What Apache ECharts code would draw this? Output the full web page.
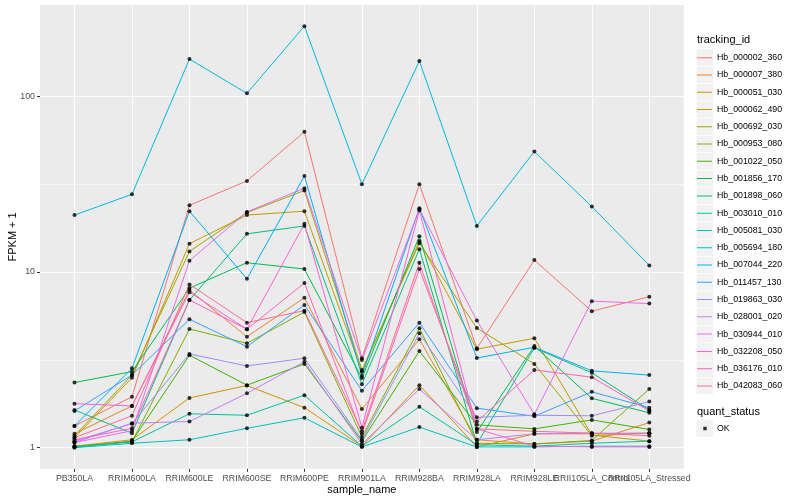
<!DOCTYPE html>
<html><head><meta charset="utf-8">
<script src="https://cdn.jsdelivr.net/npm/echarts@6/dist/echarts.min.js"></script>
<style>html,body{margin:0;padding:0;background:#fff}#c{width:800px;height:500px}</style>
</head><body><div id="c"></div>
<script>
const categories = ['PB350LA','RRIM600LA','RRIM600LE','RRIM600SE','RRIM600PE','RRIM901LA','RRIM928BA','RRIM928LA','RRIM928LE','RRII105LA_Control','RRII105LA_Stressed'];
const trackingIds = ['Hb_000002_360','Hb_000007_380','Hb_000051_030','Hb_000062_490','Hb_000692_030','Hb_000953_080','Hb_001022_050','Hb_001856_170','Hb_001898_060','Hb_003010_010','Hb_005081_030','Hb_005694_180','Hb_007044_220','Hb_011457_130','Hb_019863_030','Hb_028001_020','Hb_030944_010','Hb_032208_050','Hb_036176_010','Hb_042083_060'];
const quantStatus = ['OK'];
const yTicks = [1, 10, 100];
const yMinorTicks = [3.16228, 31.6228];

// FPKM + 1 per sample, in category order
const hb_000002_360 = [1.33, 1.95, 24.0, 33.0, 62.8, 3.23, 31.6, 3.68, 11.7, 5.98, 7.24];
const hb_000007_380 = [1.20, 1.73, 7.9, 4.28, 7.14, 1.66, 4.14, 1.11, 1.05, 1.09, 1.39];
const hb_000051_030 = [1.02, 1.11, 1.92, 2.26, 1.69, 1.02, 2.27, 1.01, 1.2, 1.2, 1.21];
const hb_000062_490 = [1.14, 2.5, 14.5, 21.1, 22.2, 2.71, 15.0, 3.64, 4.2, 1.18, 1.09];
const hb_000692_030 = [1.17, 2.59, 13.1, 21.8, 29.1, 2.77, 14.6, 4.8, 3.0, 1.17, 1.21];
const hb_000953_080 = [1.02, 1.08, 4.74, 3.93, 5.92, 1.15, 4.78, 1.06, 1.05, 1.1, 2.16];
const hb_001022_050 = [1.01, 1.09, 3.36, 2.27, 3.0, 1.09, 3.55, 1.35, 1.28, 1.44, 1.27];
const hb_001856_170 = [2.35, 2.71, 8.1, 11.3, 10.4, 2.49, 16.0, 1.23, 3.79, 1.91, 1.58];
const hb_001898_060 = [1.64, 1.21, 6.93, 16.5, 18.3, 2.30, 13.5, 1.05, 3.70, 2.67, 1.64];
const hb_003010_010 = [1.01, 1.08, 1.56, 1.53, 1.99, 1.02, 1.71, 1.04, 1.02, 1.06, 1.09];
const hb_005081_030 = [1.0, 1.06, 1.11, 1.29, 1.48, 1.01, 1.31, 1.01, 1.01, 1.02, 1.02];
const hb_005694_180 = [21.1, 27.7, 163, 104, 251, 31.6, 159, 18.3, 48.5, 23.6, 10.9];
const hb_007044_220 = [1.33, 2.83, 22.2, 9.15, 35.2, 2.56, 23.1, 3.24, 3.73, 2.74, 2.59];
const hb_011457_130 = [1.62, 2.59, 5.38, 3.76, 6.5, 2.11, 5.15, 1.68, 1.51, 2.08, 1.69];
const hb_019863_030 = [1.09, 1.37, 3.42, 2.92, 3.23, 1.11, 4.48, 1.49, 1.53, 1.52, 1.83];
const hb_028001_020 = [1.07, 1.38, 1.41, 2.04, 3.09, 1.05, 2.16, 1.11, 1.2, 1.21, 1.21];
const hb_030944_010 = [1.07, 1.25, 11.6, 22.0, 30.0, 3.16, 22.8, 5.29, 1.55, 6.83, 6.61];
const hb_032208_050 = [1.78, 1.73, 7.67, 4.73, 18.8, 1.3, 22.4, 1.28, 1.02, 1.01, 1.01];
const hb_036176_010 = [1.11, 1.29, 6.93, 4.73, 8.66, 1.2, 10.4, 1.41, 2.77, 2.52, 1.62];
const hb_042083_060 = [1.14, 1.52, 8.5, 5.15, 6.03, 1.24, 11.3, 1.28, 1.24, 1.21, 1.17];

const seriesValues = [hb_000002_360, hb_000007_380, hb_000051_030, hb_000062_490, hb_000692_030, hb_000953_080, hb_001022_050, hb_001856_170, hb_001898_060, hb_003010_010, hb_005081_030, hb_005694_180, hb_007044_220, hb_011457_130, hb_019863_030, hb_028001_020, hb_030944_010, hb_032208_050, hb_036176_010, hb_042083_060];
const colors = ['#F8766D','#EA8331','#D89000','#C09B00','#A3A500','#7CAE00','#39B600','#00BB4E','#00BF7D','#00C1A3','#00BFC4','#00BAE0','#00B0F6','#35A2FF','#9590FF','#C77CFF','#E76BF3','#FA62DB','#FF62BC','#FF6C91'];

const FONT = '"Liberation Sans", Arial, Helvetica, sans-serif';
const yMin = Math.pow(10, -0.12), yMax = Math.pow(10, 2.52);
const catIdx = categories.map((_, i) => i);
const labelIdxA = catIdx.filter(i => i !== 9);
const labelIdxB = [9];

const lineSeries = trackingIds.map((id, k) => ({
  type: 'line', name: id, xAxisIndex: 0, yAxisIndex: 0,
  data: seriesValues[k].map((v, i) => [i, v]),
  symbol: 'none', z: 2, silent: true,
  lineStyle: { width: 1, color: colors[k] }, itemStyle: { color: colors[k] }
}));
const pointData = [];
seriesValues.forEach(arr => arr.forEach((v, i) => pointData.push([i, v])));
const pointSeries = {
  type: 'scatter', name: quantStatus[0], data: pointData, symbol: 'circle', symbolSize: 4,
  itemStyle: { color: '#000' }, z: 3, silent: true
};
const gridSeries = {
  type: 'line', name: '_vgrid', data: [], z: 1, silent: true, symbol: 'none',
  markLine: {
    z: 1, zlevel: 0, silent: true, symbol: ['none', 'none'], label: { show: false }, animation: false,
    lineStyle: { color: '#fff', width: 1.07, type: 'solid' }, emphasis: { disabled: true },
    data: catIdx.map(i => ({ xAxis: i }))
  }
};

const KEY = 17.28, KEYTOP = 49;
const LINE_ICON = 'path://M0,0L0.01,0L0,0.01Z M0,8.14L15,8.14L15,9.14L0,9.14Z M15,17.28L14.99,17.28L15,17.27Z';
const POINT_ICON = 'path://M0,0L0.01,0L0,0.01Z M6.3,6.8L9.7,6.8L9.7,10.2L6.3,10.2Z M15,17L14.99,17L15,16.99Z';
const graphics = [
  { type: 'text', left: 697, top: 34, style: { text: 'tracking_id', font: '11px ' + FONT, fill: '#000' } },
  { type: 'text', left: 697, top: 406, style: { text: 'quant_status', font: '11px ' + FONT, fill: '#000' } },
  { type: 'rect', shape: { x: 696.5, y: 420.3, width: 16.6, height: 16.6 }, style: { fill: '#F2F2F2' }, z: 0 }
];
trackingIds.forEach((_, i) => graphics.push({ type: 'rect', z: 0, shape: { x: 696.5, y: KEYTOP + KEY * i + 0.35, width: 16.6, height: KEY - 0.7 }, style: { fill: '#F2F2F2' } }));

const xLabelBase = { formatter: v => categories[Math.round(v)], fontSize: 8.8, color: '#4D4D4D', margin: 5, fontFamily: FONT, hideOverlap: false, showMinLabel: true, showMaxLabel: true };

const option = {
  animation: false,
  backgroundColor: '#fff',
  textStyle: { fontFamily: FONT },
  grid: { left: 40, right: 116.2, top: 5, bottom: 31.2, show: true, backgroundColor: '#EBEBEB', borderWidth: 0, containLabel: false, outerBoundsMode: 'none' },
  xAxis: [{
    type: 'value', min: -0.6, max: 10.6, z: 1, position: 'bottom',
    name: 'sample_name', nameLocation: 'middle', nameGap: 15.5, nameMoveOverlap: false,
    nameTextStyle: { fontSize: 11, color: '#000', fontFamily: FONT },
    axisLine: { show: false, onZero: false },
    axisTick: { show: true, length: 3, lineStyle: { color: '#333', width: 1 }, customValues: catIdx },
    axisLabel: Object.assign({ customValues: labelIdxA }, xLabelBase),
    splitLine: { show: true, customValues: catIdx, lineStyle: { color: '#fff', width: 1.07 } }
  }, {
    type: 'value', min: -0.6, max: 10.6, z: 1, position: 'bottom', offset: 0,
    axisLine: { show: false, onZero: false },
    axisTick: { show: false, customValues: labelIdxB },
    axisLabel: Object.assign({ customValues: labelIdxB }, xLabelBase),
    splitLine: { show: false }
  }],
  yAxis: [{
    type: 'log', logBase: 10, min: yMin, max: yMax,
    name: 'FPKM + 1', nameLocation: 'middle', nameGap: 22, nameRotate: 90, nameMoveOverlap: false,
    nameTextStyle: { fontSize: 11, color: '#000', fontFamily: FONT },
    axisLine: { show: false, onZero: false },
    axisTick: { show: true, length: 3, lineStyle: { color: '#333', width: 1 }, customValues: yTicks },
    axisLabel: { customValues: yTicks, fontSize: 8.8, color: '#4D4D4D', margin: 5, fontFamily: FONT, showMinLabel: true, showMaxLabel: true },
    splitLine: { show: true, lineStyle: { color: '#fff', width: 1.07 } },
    z: 1
  }, {
    type: 'log', logBase: 10, min: yMin, max: yMax, position: 'left', offset: 0,
    axisLine: { show: false, onZero: false },
    axisTick: { show: false, customValues: yMinorTicks },
    axisLabel: { show: false, customValues: yMinorTicks },
    splitLine: { show: true, lineStyle: { color: '#fff', width: 0.53 } },
    z: 1
  }],
  legend: [{
    data: trackingIds.map(n => ({ name: n, icon: LINE_ICON })), orient: 'vertical', left: 697, top: KEYTOP, padding: 0,
    itemWidth: 15, itemHeight: KEY, itemGap: 0, selectedMode: false,
    textStyle: { fontSize: 8.8, color: '#000', fontFamily: FONT }
  }, {
    data: [{ name: quantStatus[0], icon: POINT_ICON }],
    orient: 'vertical', left: 697, top: 420, padding: 0,
    itemWidth: 15, itemHeight: 17, itemGap: 0, selectedMode: false,
    textStyle: { fontSize: 8.8, color: '#000', fontFamily: FONT }
  }],
  graphic: graphics,
  series: [gridSeries].concat(lineSeries, [pointSeries])
};
const chart = echarts.init(document.getElementById('c'), null, { renderer: 'canvas' });
chart.setOption(option);
</script></body></html>
